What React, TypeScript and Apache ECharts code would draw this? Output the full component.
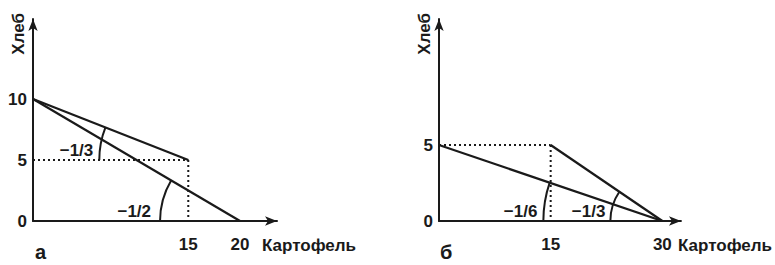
import React, { useEffect, useRef } from "react";
import * as echarts from "echarts";

// ---- Panel "а" data ----
const xTickLabelsA = [15, 20];
const yTickLabelsA = [0, 5, 10];
const solidLineA1 = [[0, 10], [20, 0]];
const solidLineA2 = [[0, 10], [15, 5]];
const dottedLineA1 = [[0, 5], [15, 5]];
const dottedLineA2 = [[15, 5], [15, 0]];
// angle arcs: [vertexX, vertexY, rayPointX, rayPointY]
const anglesA = [[15, 5, 0, 10], [20, 0, 0, 10]];
const angleLabelsA = ["−1/3", "−1/2"];

// ---- Panel "б" data ----
const xTickLabelsB = [15, 30];
const yTickLabelsB = [0, 5];
const solidLineB1 = [[0, 5], [30, 0]];
const solidLineB2 = [[15, 5], [30, 0]];
const dottedLineB1 = [[0, 5], [15, 5]];
const dottedLineB2 = [[15, 5], [15, 0]];
const anglesB = [[30, 0, 0, 5], [30, 0, 15, 5]];
const angleLabelsB = ["−1/6", "−1/3"];

const xAxisName = "Картофель";
const yAxisName = "Хлеб";
const panelLetters = ["а", "б"];

// ---- styles ----
const INK = "#1a1a1a";
const FONT = '"Liberation Sans", Arial, Helvetica, sans-serif';
const FS = 17;
const arcRadiiA = [89, 80];
const arcRadiiB = [119, 52];
const labelGapsA = [6, 9];
const labelGapsB = [6, 5];

function solid(data: number[][], idx: number) {
  return {
    type: "line",
    xAxisIndex: idx,
    yAxisIndex: idx,
    data,
    symbol: "none",
    silent: true,
    lineStyle: { color: INK, width: 2.2 },
  };
}
function dotted(data: number[][], idx: number) {
  return {
    type: "line",
    xAxisIndex: idx,
    yAxisIndex: idx,
    data,
    symbol: "none",
    silent: true,
    lineStyle: { color: INK, width: 2, type: [2, 3] },
  };
}
function arcs(data: number[][], labels: string[], radii: number[], gaps: number[], idx: number) {
  return {
    type: "custom",
    xAxisIndex: idx,
    yAxisIndex: idx,
    clip: false,
    silent: true,
    data,
    renderItem: (params: any, api: any) => {
      const c = api.coord([api.value(0), api.value(1)]);
      const p = api.coord([api.value(2), api.value(3)]);
      const r = radii[params.dataIndex];
      const a = Math.atan2(p[1] - c[1], p[0] - c[0]);
      return {
        type: "group",
        children: [
          {
            type: "arc",
            shape: { cx: c[0], cy: c[1], r, startAngle: a, endAngle: -Math.PI, clockwise: false },
            style: { stroke: INK, lineWidth: 2, fill: "none" },
          },
          {
            type: "text",
            style: {
              x: c[0] - r - gaps[params.dataIndex],
              y: c[1] - 10,
              text: labels[params.dataIndex],
              align: "right",
              verticalAlign: "middle",
              font: `bold ${FS}px ${FONT}`,
              fill: INK,
            },
          },
        ],
      };
    },
  };
}

function xAxis(idx: number, max: number, ticks: number[], nameGap: number) {
  return {
    type: "value",
    gridIndex: idx,
    min: 0,
    max,
    splitLine: { show: false },
    axisTick: { show: false },
    axisLine: {
      show: true,
      onZero: false,
      symbol: ["none", "arrow"],
      symbolSize: [7, 12],
      lineStyle: { color: INK, width: 2 },
    },
    axisLabel: {
      customValues: ticks,
      margin: 15,
      color: INK,
      fontFamily: FONT,
      fontWeight: "bold",
      fontSize: FS,
    },
    name: xAxisName,
    nameLocation: "end",
    nameGap,
    nameTextStyle: {
      align: "left",
      verticalAlign: "top",
      padding: [16, 0, 0, 0],
      color: INK,
      fontFamily: FONT,
      fontWeight: "bold",
      fontSize: FS,
    },
  };
}
function yAxis(idx: number, max: number, ticks: number[]) {
  return {
    type: "value",
    gridIndex: idx,
    min: 0,
    max,
    splitLine: { show: false },
    axisTick: { show: false },
    axisLine: {
      show: true,
      onZero: false,
      symbol: ["none", "arrow"],
      symbolSize: [7, 12],
      lineStyle: { color: INK, width: 2 },
    },
    axisLabel: {
      customValues: ticks,
      margin: 6,
      color: INK,
      fontFamily: FONT,
      fontWeight: "bold",
      fontSize: FS,
    },
    name: yAxisName,
    nameLocation: "end",
    nameRotate: 90,
    nameGap: 6,
    nameTextStyle: {
      align: "right",
      verticalAlign: "bottom",
      padding: [0, 0, 6, 0],
      color: INK,
      fontFamily: FONT,
      fontWeight: "bold",
      fontSize: FS,
    },
  };
}

export default function App() {
  const ref = useRef<HTMLDivElement>(null);
  useEffect(() => {
    if (!ref.current) return;
    const chart = echarts.init(ref.current, undefined, { renderer: "svg" });
    chart.setOption({
      animation: false,
      backgroundColor: "#ffffff",
      grid: [
        { left: 33, top: 19, width: 244, height: 202 },
        { left: 439, top: 19, width: 242, height: 202 },
      ],
      xAxis: [xAxis(0, 23.57, xTickLabelsA, -15), xAxis(1, 32.5, xTickLabelsB, -3)],
      yAxis: [yAxis(0, 16.56, yTickLabelsA), yAxis(1, 13.29, yTickLabelsB)],
      graphic: [
        {
          type: "text",
          left: 35,
          top: 242,
          style: { text: panelLetters[0], font: `bold 20px ${FONT}`, fill: INK },
        },
        {
          type: "text",
          left: 440,
          top: 242,
          style: { text: panelLetters[1], font: `bold 20px ${FONT}`, fill: INK },
        },
      ],
      series: [
        solid(solidLineA1, 0),
        solid(solidLineA2, 0),
        dotted(dottedLineA1, 0),
        dotted(dottedLineA2, 0),
        arcs(anglesA, angleLabelsA, arcRadiiA, labelGapsA, 0),
        solid(solidLineB1, 1),
        solid(solidLineB2, 1),
        dotted(dottedLineB1, 1),
        dotted(dottedLineB2, 1),
        arcs(anglesB, angleLabelsB, arcRadiiB, labelGapsB, 1),
      ],
    });
    return () => chart.dispose();
  }, []);
  return (
    <div
      ref={ref}
      style={{ position: "fixed", left: 0, top: 0, width: 775, height: 265, background: "#fff" }}
    />
  );
}
